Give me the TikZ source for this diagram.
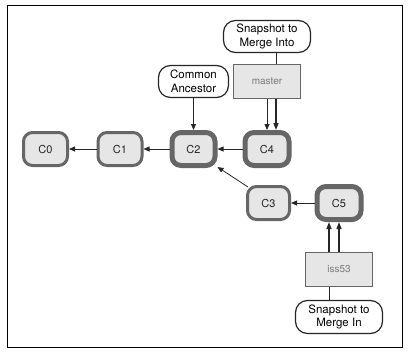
\documentclass[tikz,border=0pt]{standalone}
\usepackage{fontspec}
\setmainfont{TeX Gyre Heros}
\usetikzlibrary{arrows.meta}
\definecolor{commitfill}{HTML}{E6E6E6}
\definecolor{commitline}{HTML}{666666}
\definecolor{branchtext}{HTML}{7A7A7A}
\tikzset{
  commit/.style={draw=commitline, fill=commitfill, rounded corners=9pt, line width=3pt,
    minimum width=44pt, minimum height=33pt, inner sep=0pt, font=\fontsize{11}{13}\selectfont, text=black!85},
  headcommit/.style={commit, line width=5pt, minimum width=43pt, minimum height=33pt},
  branch/.style={draw=commitline, fill=commitfill, line width=1.4pt, minimum width=66.6pt,
    minimum height=33.6pt, inner sep=0pt, font=\fontsize{10}{12}\selectfont, text=branchtext},
  note/.style={draw=black!85, fill=white, rounded corners=12pt, line width=1.2pt,
    minimum height=32pt, inner sep=0pt, align=center, font=\fontsize{11.5}{13.5}\selectfont},
  link/.style={-{Triangle[length=6pt,width=5pt]}, line width=0.8pt, black!85},
  reflink/.style={-{Triangle[length=7pt,width=5pt]}, line width=1.3pt, black!85},
  plain/.style={line width=1pt, black!85}
}
\begin{document}
\begin{tikzpicture}[x=1pt,y=-1pt]
\useasboundingbox (0,0) rectangle (409,356);
\draw[line width=0.9pt] (7,5) rectangle (402,347);
\node[commit] (C0) at (45.5,149) {C0};
\node[commit] (C1) at (120,149) {C1};
\node[headcommit] (C2) at (193.5,149) {C2};
\node[headcommit, minimum width=44pt] (C4) at (267,149) {C4};
\node[commit, minimum width=42pt] (C3) at (268.5,203) {C3};
\node[headcommit, minimum width=44pt] (C5) at (339,203) {C5};
\node[branch] (master) at (267,81.5) {master};
\node[branch] (iss53) at (339,269.5) {iss53};
\node[note, minimum width=87pt] (into) at (267,36.5) {Snapshot to\\Merge Into};
\node[note, minimum width=70pt] (anc) at (193.5,81.5) {Common\\Ancestor};
\node[note, minimum width=87pt, minimum height=33pt] (in) at (339,317) {Snapshot to\\Merge In};
\draw[link] (C1) -- (C0);
\draw[link] (C2) -- (C1);
\draw[link] (C4) -- (C2);
\draw[link] (C5) -- (C3);
\draw[link] ([shift={(2,2)}]C3.north west) -- ([shift={(0,-1)}]C2.south east);
\draw[link] (anc) -- (C2);
\draw[link] (master.south) -- (C4.north);
\draw[reflink] ([xshift=9pt]master.south) -- ([xshift=9pt]C4.north);
\draw[plain] ([xshift=9pt]into.south) -- ([xshift=9pt]master.north);
\draw[reflink] ([xshift=-10pt]iss53.north) -- ([xshift=-10pt]C5.south);
\draw[reflink] (iss53.north) -- (C5.south);
\draw[plain] ([xshift=-10pt]iss53.south) -- ([xshift=-10pt]in.north);
\end{tikzpicture}
\end{document}
